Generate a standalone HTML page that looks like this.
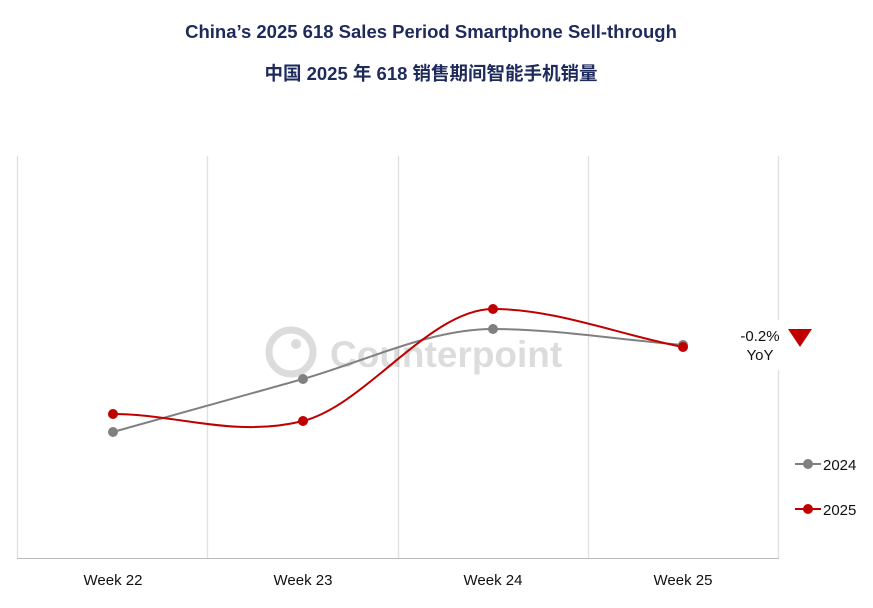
<!DOCTYPE html>
<html><head><meta charset="utf-8"><style>
body{margin:0;background:#fff;width:873px;height:603px;overflow:hidden}
</style></head><body>
<svg width="873" height="603" xmlns="http://www.w3.org/2000/svg" font-family="Liberation Sans, Noto Sans CJK SC, sans-serif">
<text x="431" y="38" text-anchor="middle" font-size="18.5" font-weight="bold" fill="#1f2a5c">China’s 2025 618 Sales Period Smartphone Sell-through</text>
<text x="431" y="80" text-anchor="middle" font-size="18.5" font-weight="bold" fill="#1f2a5c">中国 2025 年 618 销售期间智能手机销量</text>
<g stroke="#e0e0e0" stroke-width="1.3">
<line x1="17.5" y1="156" x2="17.5" y2="558"/>
<line x1="207.5" y1="156" x2="207.5" y2="558"/>
<line x1="398.5" y1="156" x2="398.5" y2="558"/>
<line x1="588.5" y1="156" x2="588.5" y2="558"/>
<line x1="778.5" y1="156" x2="778.5" y2="558"/>
</g>
<line x1="17" y1="558.5" x2="779" y2="558.5" stroke="#bbb" stroke-width="1"/>
<g opacity="0.2" fill="#555">
<circle cx="291" cy="352" r="22" fill="none" stroke="#555" stroke-width="7"/>
<circle cx="296" cy="344" r="5"/>
<text x="330" y="367" font-size="37" font-weight="bold">Counterpoint</text>
</g>
<rect x="728" y="320" width="100" height="50" fill="#fff"/>
<path d="M113,432 L303,379 C366,361 430,329 493,329 C556,329 620,340 683,345" fill="none" stroke="#808080" stroke-width="2"/>
<path d="M113,414 C176,414 235,438 303,421 C366,405 430,309 493,309 C556,309 620,335 683,347" fill="none" stroke="#c00000" stroke-width="2"/>
<g fill="#808080"><circle cx="113" cy="432" r="5"/><circle cx="303" cy="379" r="5"/><circle cx="493" cy="329" r="5"/><circle cx="683" cy="345" r="5"/></g>
<g fill="#c00000"><circle cx="113" cy="414" r="5"/><circle cx="303" cy="421" r="5"/><circle cx="493" cy="309" r="5"/><circle cx="683" cy="347" r="5"/></g>
<text x="760" y="341" text-anchor="middle" font-size="15" fill="#111">-0.2%</text>
<text x="760" y="360" text-anchor="middle" font-size="15" fill="#111">YoY</text>
<polygon points="788,329 812,329 800,347" fill="#c00000"/>
<line x1="795" y1="464" x2="821" y2="464" stroke="#808080" stroke-width="2"/>
<circle cx="808" cy="464" r="5" fill="#808080"/>
<text x="823" y="470" font-size="15" fill="#111">2024</text>
<line x1="795" y1="509" x2="821" y2="509" stroke="#c00000" stroke-width="2"/>
<circle cx="808" cy="509" r="5" fill="#c00000"/>
<text x="823" y="515" font-size="15" fill="#111">2025</text>
<g font-size="15" fill="#111" text-anchor="middle">
<text x="113" y="585">Week 22</text><text x="303" y="585">Week 23</text><text x="493" y="585">Week 24</text><text x="683" y="585">Week 25</text>
</g>
</svg>
</body></html>
